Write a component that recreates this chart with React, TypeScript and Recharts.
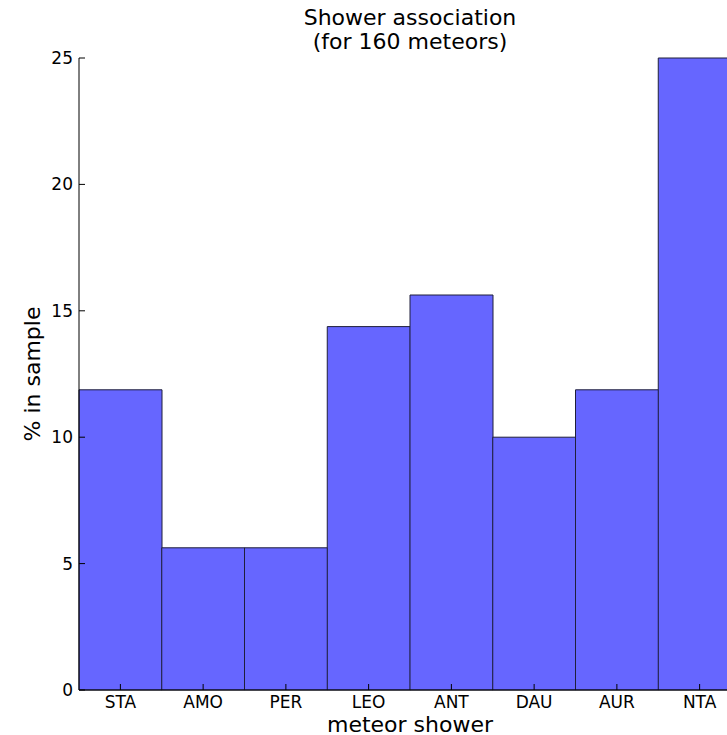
import { BarChart, Bar, XAxis, YAxis, Label } from 'recharts'

// Shower codes and share of the 160-meteor sample (%)
const showers = ['STA', 'AMO', 'PER', 'LEO', 'ANT', 'DAU', 'AUR', 'NTA']
const percentInSample = [11.875, 5.625, 5.625, 14.375, 15.625, 10, 11.875, 25]
const yTicks = [0, 5, 10, 15, 20, 25]

const font = '"DejaVu Sans", sans-serif'

export default function App() {
  const data = showers.map((name, i) => ({ name, pct: percentInSample[i] }))

  return (
    <div
      style={{
        position: 'fixed',
        left: 0,
        top: 0,
        width: 727,
        height: 735,
        overflow: 'hidden',
        background: '#fff',
        fontFamily: font,
      }}
    >
      {/* Title */}
      <div
        style={{
          position: 'absolute',
          left: 0,
          width: 820,
          top: 6,
          textAlign: 'center',
          fontSize: 22,
          lineHeight: '24px',
          color: '#000',
        }}
      >
        Shower association
        <br />
        (for 160 meteors)
      </div>

      <BarChart
        width={760}
        height={735}
        data={data}
        barCategoryGap={0}
        margin={{ top: 58, right: 19, bottom: 0, left: 0 }}
        style={{ position: 'absolute', left: 0, top: 0 }}
      >
        <XAxis
          dataKey="name"
          height={45}
          interval={0}
          tickSize={-6}
          tickMargin={12}
          axisLine={{ stroke: '#000' }}
          tickLine={{ stroke: '#000' }}
          tick={{ fill: '#000', fontSize: 17, fontFamily: font }}
        >
          <Label
            value="meteor shower"
            position="insideBottom"
            offset={3}
            style={{ fill: '#000', fontSize: 22, fontFamily: font }}
          />
        </XAxis>
        <XAxis
          xAxisId="top"
          dataKey="name"
          orientation="top"
          height={0}
          interval={0}
          tickSize={-6}
          tick={false}
          axisLine={{ stroke: '#000' }}
          tickLine={{ stroke: '#000' }}
        />
        <YAxis
          type="number"
          domain={[0, 25]}
          ticks={yTicks}
          width={79}
          tickSize={-6}
          tickMargin={12}
          axisLine={{ stroke: '#000' }}
          tickLine={{ stroke: '#000' }}
          tick={{ fill: '#000', fontSize: 17, fontFamily: font }}
        >
          <Label
            content={({ viewBox }: any) => {
              const cx = viewBox.x + 32
              const cy = viewBox.y + viewBox.height / 2
              return (
                <text
                  x={cx}
                  y={cy}
                  transform={`rotate(-90 ${cx} ${cy})`}
                  textAnchor="middle"
                  dominantBaseline="central"
                  style={{ fill: '#000', fontSize: 22, fontFamily: font }}
                >
                  % in sample
                </text>
              )
            }}
          />
        </YAxis>
        <Bar
          dataKey="pct"
          fill="#6666ff"
          stroke="#1f1f3a"
          strokeWidth={1}
          isAnimationActive={false}
        />
      </BarChart>
    </div>
  )
}
